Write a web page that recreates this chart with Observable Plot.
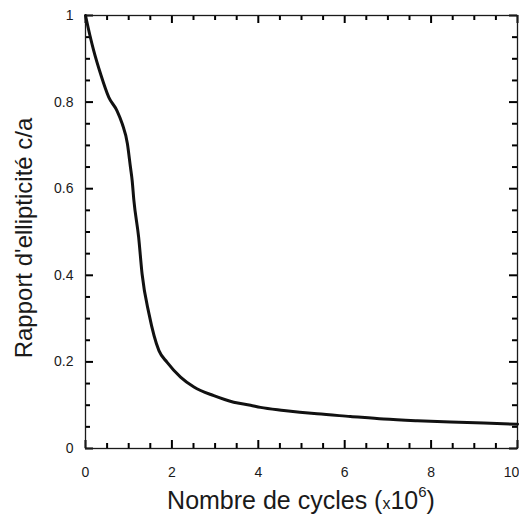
<!DOCTYPE html>
<html>
<head>
<meta charset="utf-8">
<script src="https://cdn.jsdelivr.net/npm/d3@7"></script>
<script src="https://cdn.jsdelivr.net/npm/@observablehq/plot@0.6"></script>
<style>
  html, body { margin: 0; padding: 0; background: #fff; overflow: hidden; }
  #chart svg { display: block; }
</style>
</head>
<body>
<div id="chart"></div>
<script>
// Data (cycles in units of 10^6)
const cycles = [0, 0.1, 0.19, 0.35, 0.54, 0.73, 0.85, 0.97, 1.04, 1.08, 1.12, 1.23, 1.31, 1.47, 1.70, 1.89, 2.2, 2.51, 2.97, 3.43, 3.82, 4.05, 4.59, 5.36, 6.13, 6.9, 7.68, 8.45, 9.22, 10];
const ratio  = [1.0, 0.955, 0.919, 0.865, 0.811, 0.78, 0.75, 0.704, 0.65, 0.619, 0.573, 0.488, 0.403, 0.311, 0.226, 0.199, 0.165, 0.142, 0.122, 0.107, 0.100, 0.095, 0.088, 0.080, 0.074, 0.068, 0.064, 0.061, 0.059, 0.056];

const xMajor = [0, 2, 4, 6, 8, 10];
const xMinor = [0.5, 1, 1.5, 2.5, 3, 3.5, 4.5, 5, 5.5, 6.5, 7, 7.5, 8.5, 9, 9.5];
const yMajor = [0, 0.2, 0.4, 0.6, 0.8, 1];
const yMinor = [0.05, 0.1, 0.15, 0.25, 0.3, 0.35, 0.45, 0.5, 0.55, 0.65, 0.7, 0.75, 0.85, 0.9, 0.95];

const xLabelText = "Nombre de cycles (";
const yLabelText = "Rapport d'ellipticité c/a";

const data = cycles.map((c, i) => ({cycles: c, ratio: ratio[i]}));

const W = 519, H = 519;
const mL = 85, mR = 2, mT = 15, mB = 71;
const fw = W - mL - mR, fh = H - mT - mB;
const maj = 8, mnr = 5;          // tick lengths in pixels
const ink = "#1a1a1a";
const font = "'Liberation Sans', Arial, sans-serif";

// inward ticks on all four sides
const tickStyle = {stroke: "#000", strokeWidth: 2};
const tickMarks = [];
for (const [ticks, len] of [[xMajor, maj], [xMinor, mnr]]) {
  tickMarks.push(Plot.tickX(ticks, {x: d => d, insetTop: fh - len, ...tickStyle}));     // bottom edge
  tickMarks.push(Plot.tickX(ticks, {x: d => d, insetBottom: fh - len, ...tickStyle}));  // top edge
}
for (const [ticks, len] of [[yMajor, maj], [yMinor, mnr]]) {
  tickMarks.push(Plot.tickY(ticks, {y: d => d, insetRight: fw - len, ...tickStyle}));   // left edge
  tickMarks.push(Plot.tickY(ticks, {y: d => d, insetLeft: fw - len, ...tickStyle}));    // right edge
}

const chart = Plot.plot({
  width: W, height: H,
  marginLeft: mL, marginRight: mR, marginTop: mT, marginBottom: mB,
  style: {fontFamily: font, fontSize: "14px", color: ink, background: "#fff"},
  x: {domain: [0, 10]},
  y: {domain: [0, 1]},
  marks: [
    Plot.axisX({anchor: "bottom", ticks: xMajor.slice(0, -1), tickSize: 0, tickPadding: 19, label: null, fontSize: 14}),
    Plot.axisX({anchor: "bottom", ticks: xMajor.slice(-1), tickSize: 0, tickPadding: 19, label: null, fontSize: 14, dx: -6}),
    Plot.axisY({anchor: "left", ticks: yMajor, tickSize: 0, tickPadding: 12, label: null, fontSize: 14,
      tickFormat: d => String(+d.toFixed(1))}),
    ...tickMarks,
    Plot.frame({stroke: ink, strokeWidth: 1.3}),
    Plot.line(data, {x: "cycles", y: "ratio", stroke: "#111", strokeWidth: 3, strokeLinejoin: "round", curve: "monotone-x"})
  ]
});

const svg = d3.select(chart);
// x axis label with superscript
const xl = svg.append("text")
  .attr("x", mL + fw / 2)
  .attr("y", 509)
  .attr("text-anchor", "middle")
  .attr("fill", ink)
  .style("font-family", font)
  .style("font-size", "25px");
xl.append("tspan").text(xLabelText);
xl.append("tspan").style("font-size", "16px").text("x");
xl.append("tspan").text("10");
xl.append("tspan").attr("dy", -12).style("font-size", "15px").text("6");
xl.append("tspan").attr("dy", 12).text(")");

// y axis label
svg.append("text")
  .attr("transform", `translate(32,238) rotate(-90)`)
  .attr("text-anchor", "middle")
  .attr("fill", ink)
  .style("font-family", font)
  .style("font-size", "24px")
  .text(yLabelText);

document.getElementById("chart").appendChild(chart);
</script>
</body>
</html>
